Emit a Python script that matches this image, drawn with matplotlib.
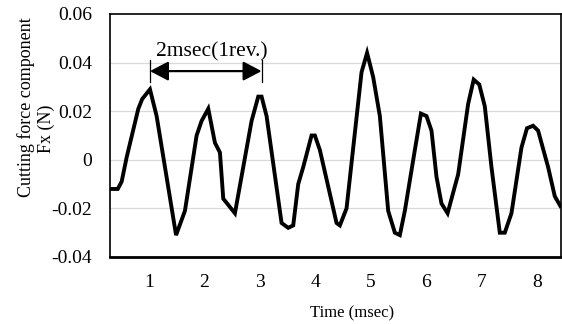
import matplotlib
matplotlib.use('Agg')
import matplotlib.pyplot as plt

plt.rcParams['font.family'] = ['Liberation Serif', 'DejaVu Serif']

# vertices (time in msec, force in N)
time_ms = [0.33, 0.44, 0.51, 0.60, 0.81, 0.88, 1.02, 1.14, 1.29, 1.49,
           1.65, 1.86, 1.95, 2.07, 2.19, 2.28, 2.34, 2.55, 2.70, 2.85,
           2.97, 3.03, 3.12, 3.39, 3.51, 3.60, 3.69, 3.78, 3.93, 3.99,
           4.08, 4.29, 4.38, 4.44, 4.56, 4.83, 4.93, 5.04, 5.16, 5.31,
           5.43, 5.52, 5.61, 5.79, 5.90, 6.00, 6.09, 6.18, 6.27, 6.38,
           6.51, 6.57, 6.75, 6.85, 6.95, 7.05, 7.17, 7.32, 7.41, 7.53,
           7.71, 7.81, 7.92, 8.01, 8.19, 8.31, 8.41]
force_fx = [-0.012, -0.012, -0.009, 0.001, 0.021, 0.025, 0.029, 0.018, -0.003, -0.031,
            -0.021, 0.010, 0.016, 0.021, 0.007, 0.003, -0.016, -0.022, -0.003, 0.016,
            0.026, 0.026, 0.018, -0.026, -0.028, -0.027, -0.010, -0.003, 0.010, 0.010,
            0.004, -0.017, -0.026, -0.027, -0.020, 0.036, 0.044, 0.034, 0.018, -0.021,
            -0.030, -0.031, -0.021, 0.004, 0.019, 0.018, 0.012, -0.007, -0.018, -0.022,
            -0.011, -0.006, 0.023, 0.033, 0.031, 0.022, -0.003, -0.030, -0.030, -0.022,
            0.005, 0.013, 0.014, 0.012, -0.003, -0.015, -0.019]

x_ticks = [1, 2, 3, 4, 5, 6, 7, 8]
y_ticks = [-0.04, -0.02, 0, 0.02, 0.04, 0.06]
y_tick_labels = ['-0.04', '-0.02', '0', '0.02', '0.04', '0.06']

rev_start, rev_end = 1.02, 3.03

fig = plt.figure(figsize=(5.62, 3.24), dpi=100)
ax = fig.add_axes([0.1957, 0.2068, 0.8023, 0.75])

for yv in [-0.02, 0, 0.02, 0.04]:
    ax.axhline(yv, color='#d9d9d9', lw=0.9, zorder=0)

ax.plot(time_ms, force_fx, color='black', lw=2.8, solid_joinstyle='miter', zorder=3)

ax.set_xlim(0.3, 8.42)
ax.set_ylim(-0.04, 0.06)
ax.set_xticks(x_ticks)
ax.set_xticklabels([str(v) for v in x_ticks])
ax.set_yticks(y_ticks)
ax.set_yticklabels(y_tick_labels)
ax.tick_params(axis='x', length=0, pad=12, labelsize=14)
ax.tick_params(axis='y', length=0, pad=13, labelsize=14)

for side in ['top', 'right', 'left']:
    ax.spines[side].set_linewidth(1.2)
ax.spines['bottom'].set_linewidth(2.0)

# 1 revolution marker
for xv in [rev_start, rev_end]:
    ax.plot([xv, xv], [0.032, 0.0411], color='black', lw=0.9, zorder=4)
ax.annotate('', xy=(rev_end, 0.0365), xytext=(rev_start, 0.0365),
            arrowprops=dict(arrowstyle='<|-|>,head_length=0.8,head_width=0.42',
                            mutation_scale=14, lw=1.6, color='black',
                            shrinkA=0, shrinkB=0))
ax.text(2.14, 0.0445, '2msec(1rev.)', fontsize=15.5, ha='center', va='center')

fig.text(352 / 562, 1 - 313 / 324, 'Time (msec)', fontsize=12, ha='center', va='center')
fig.text(26 / 562, 1 - 107 / 324, 'Cutting force component', fontsize=13,
         rotation=90, ha='center', va='center')
fig.text(46 / 562, 1 - 129 / 324, 'Fx (N)', fontsize=13,
         rotation=90, ha='center', va='center')

fig.savefig('out.png', dpi=100)
